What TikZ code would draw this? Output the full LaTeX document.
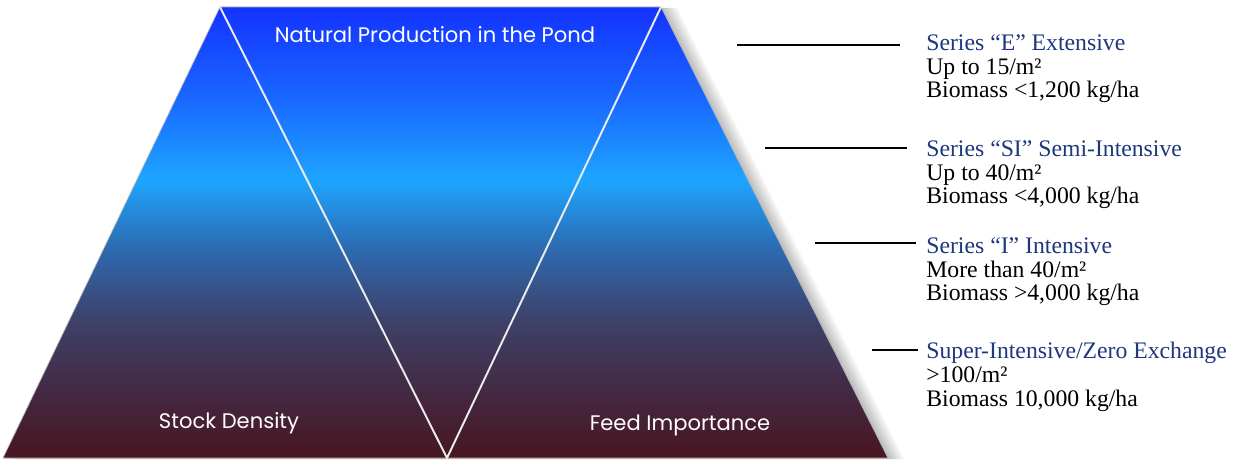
\documentclass[tikz,border=0pt]{standalone}
\usepackage{fontspec}
\setmainfont{Liberation Serif}
\newfontfamily\geofont{Poppins}

\definecolor{seriesblue}{RGB}{30,55,125}
\definecolor{pondbot}{RGB}{72,22,32}
\definecolor{pondA}{RGB}{68,38,62}
\definecolor{pondB}{RGB}{62,65,105}
\definecolor{pondC}{RGB}{45,105,175}
\definecolor{pondD}{RGB}{30,165,255}
\definecolor{pondE}{RGB}{25,105,255}
\definecolor{pondtop}{RGB}{20,50,255}

% 25bp = bottom edge, 75bp = top edge
\pgfdeclareverticalshading{pondshade}{100bp}{%
  color(0bp)=(pondbot); color(25bp)=(pondbot); color(31.4bp)=(pondA);
  color(40.3bp)=(pondB); color(48.1bp)=(pondC); color(55.8bp)=(pondD);
  color(64.7bp)=(pondE); color(75bp)=(pondtop); color(100bp)=(pondtop)}

\begin{document}
\begin{tikzpicture}[x=0.02cm, y=-0.02cm,
    every node/.style={inner sep=0pt},
    pond/.style={shading=pondshade, draw=gray!55, line width=0.4pt},
    vline/.style={draw=white!85!gray, line width=1.1pt},
    zone/.style={font=\geofont\fontsize{12}{14}\selectfont, text=white},
    level/.style={font=\fontsize{13.5}{13.6}\selectfont, align=left, anchor=north west},
    head/.style={text=seriesblue},
    leader/.style={draw=black, line width=1.3pt}
]
\useasboundingbox (0,0) rectangle (1234,462);

\coordinate (tl) at (220,7);
\coordinate (tr) at (661,7);
\coordinate (br) at (888,458);
\coordinate (bl) at (3,458);
\coordinate (apex) at (447,458);

% soft shadow on the right
\foreach \d in {2,4,...,16}
  \fill[black, opacity=0.035, shift={(\d,1)}] (220,7) -- (661,7) -- (888,458) -- (3,458) -- cycle;

\shade[pond] (tl) -- (tr) -- (br) -- (bl) -- cycle;
\draw[vline] (tl) -- (apex) -- (tr);

\node[zone] (natural) at (435,35) {Natural Production in the Pond};
\node[zone] (stock)   at (229,423) {Stock Density};
\node[zone] (feed)    at (680,425) {Feed Importance};

% farming levels
\node[level] (ext)  at (926,34)  {\textcolor{seriesblue}{Series “E” Extensive}\\Up to 15/m²\\Biomass <1,200 kg/ha};
\node[level] (semi) at (926,140) {\textcolor{seriesblue}{Series “SI” Semi-Intensive}\\Up to 40/m²\\Biomass <4,000 kg/ha};
\node[level] (int)  at (926,237) {\textcolor{seriesblue}{Series “I” Intensive}\\More than 40/m²\\Biomass >4,000 kg/ha};
\node[level] (sup)  at (926,342) {\textcolor{seriesblue}{Super-Intensive/Zero Exchange}\\>100/m²\\Biomass 10,000 kg/ha};

\coordinate (extA) at (737,45);  \coordinate (extB) at (900,45);
\coordinate (semiA) at (765,148); \coordinate (semiB) at (907,148);
\coordinate (intA) at (815,243);  \coordinate (intB) at (916,243);
\coordinate (supA) at (872,350);  \coordinate (supB) at (918,350);
\draw[leader] (extA) -- (extB);
\draw[leader] (semiA) -- (semiB);
\draw[leader] (intA) -- (intB);
\draw[leader] (supA) -- (supB);
\end{tikzpicture}
\end{document}
